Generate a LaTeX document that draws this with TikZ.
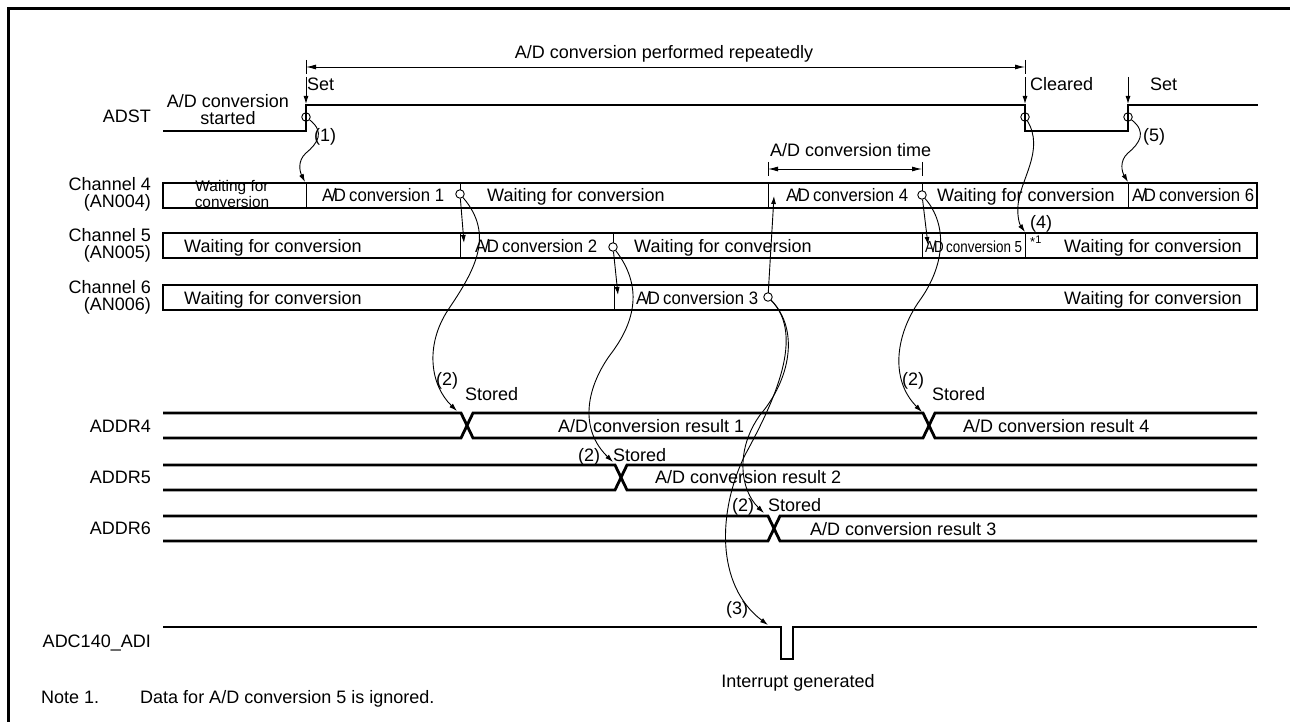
\documentclass[tikz,border=0pt]{standalone}
\usepackage{fontspec}
\setmainfont{Liberation Sans}
\usepackage{graphicx}
\usetikzlibrary{arrows.meta}
\newcommand{\ADc}[1]{\scalebox{0.93}[1]{A\kern-2pt/\kern-2.5pt D\kern-1.5pt{} conversion #1}}
\begin{document}
\begin{tikzpicture}[x=1pt,y=-1pt,
  sig/.style={line width=2.8pt},
  thinl/.style={line width=0.9pt},
  arr/.style={thinl,-{Latex[length=8pt,width=5pt]}},
  dim/.style={thinl,{Latex[length=10pt,width=5pt]}-{Latex[length=10pt,width=5pt]}},
  txt/.style={inner sep=0pt,font=\fontsize{18}{17}\selectfont},
  small/.style={inner sep=0pt,font=\fontsize{15.4}{12}\selectfont},
  ring/.style={circle,draw,thinl,inner sep=0pt,minimum size=8.5pt}
]
\useasboundingbox (0,0) rectangle (1290,722);
% frame
\draw[line width=3pt] (8,740) -- (8,9) -- (1300,9);

% ---------------- row labels
\node[txt,anchor=east] (lADST) at (151,116) {ADST};
\node[txt,anchor=east,align=right] (lch4) at (151,194) {Channel 4\\(AN004)};
\node[txt,anchor=east,align=right] (lch5) at (151,245) {Channel 5\\(AN005)};
\node[txt,anchor=east,align=right] (lch6) at (151,297) {Channel 6\\(AN006)};
\node[txt,anchor=east] (lr4) at (151,426) {ADDR4};
\node[txt,anchor=east] (lr5) at (151,477) {ADDR5};
\node[txt,anchor=east] (lr6) at (151,528) {ADDR6};
\node[txt,anchor=east] (ladi) at (151,643) {ADC140\_ADI};

% ---------------- ADST
\draw[sig] (163,131) -- (306,131) -- (306,105) -- (1025,105) -- (1025,131) -- (1128,131) -- (1128,105) -- (1258,105);
\node[ring] (c1) at (306,117) {};
\node[ring] (c2) at (1025,117) {};
\node[ring] (c3) at (1128,117) {};
\node[txt,align=center] (started) at (228,110) {A/D conversion\\started};

% set / cleared arrows
\coordinate (s1a) at (306,77);  \coordinate (s1b) at (306,104);
\coordinate (s2a) at (1025,77); \coordinate (s2b) at (1025,104);
\coordinate (s3a) at (1128,77); \coordinate (s3b) at (1128,104);
\draw[arr] (s1a) -- (s1b);
\draw[arr] (s2a) -- (s2b);
\draw[arr] (s3a) -- (s3b);
\node[txt,anchor=base west] (tset1) at (307,91) {Set};
\node[txt,anchor=base west] (tclr) at (1030,91) {Cleared};
\node[txt,anchor=base west] (tset2) at (1150,91) {Set};

% dimension: performed repeatedly
\coordinate (d1l) at (306,67); \coordinate (d1r) at (1025,67);
\draw[thinl] (306,60) -- (306,74);
\draw[thinl] (1025,60) -- (1025,74);
\draw[dim] (d1l) -- (d1r);
\node[txt,anchor=base] (trep) at (664,59) {A/D conversion performed repeatedly};

% dimension: conversion time
\coordinate (d2l) at (768,169); \coordinate (d2r) at (922,169);
\draw[thinl] (768,162) -- (768,176);
\draw[thinl] (922,162) -- (922,176);
\draw[dim] (d2l) -- (d2r);
\node[txt,anchor=base west] (tctime) at (770,157) {A/D conversion time};

% ---------------- channel boxes
\draw[sig] (163,183) rectangle (1257,208);
\draw[sig] (163,233) rectangle (1257,258);
\draw[sig] (163,285) rectangle (1257,310);
% dividers ch4
\draw[thinl] (306,183) -- (306,208);
\draw[thinl] (460,183) -- (460,190);
\draw[thinl] (768,183) -- (768,208);
\draw[thinl] (922,183) -- (922,191);
\draw[thinl] (1128,183) -- (1128,208);
% dividers ch5
\draw[thinl] (460,233) -- (460,258);
\draw[thinl] (613,233) -- (613,243);
\draw[thinl] (922,233) -- (922,258);
\draw[thinl] (1025,233) -- (1025,258);
% dividers ch6
\draw[thinl] (614,285) -- (614,310);
\draw[thinl] (768,285) -- (768,293);

\node[ring] (k4a) at (460,194) {};
\node[ring] (k4b) at (922,195) {};
\node[ring] (k5) at (613,247) {};
\node[ring] (k6) at (768,297) {};

% ch4 texts
\node[small,align=center] (w4a) at (232,194) {Waiting for\\conversion};
\node[txt,anchor=base west] (a41) at (322,202) {\ADc{1}};
\node[txt,anchor=base west] (w4b) at (487,202) {Waiting for conversion};
\node[txt,anchor=base west] (a44) at (786,202) {\ADc{4}};
\node[txt,anchor=base west] (w4c) at (937,202) {Waiting for conversion};
\node[txt,anchor=base west] (a46) at (1132,202) {\ADc{6}};
% ch5 texts
\node[txt,anchor=base west] (w5a) at (184,252) {Waiting for conversion};
\node[txt,anchor=base west] (a52) at (475,252) {\ADc{2}};
\node[txt,anchor=base west] (w5b) at (634,252) {Waiting for conversion};
\node[inner sep=0pt,anchor=base west,font=\fontsize{16}{16}\selectfont] (a55) at (925,252) {\scalebox{0.9}[1]{\ADc{5}}};
\node[inner sep=0pt,anchor=base west] (ast) at (1030,247) {\fontsize{13}{13}\selectfont *\raisebox{3pt}{\fontsize{11}{11}\selectfont 1}};
\node[txt,anchor=base west] (w5c) at (1064,252) {Waiting for conversion};
% ch6 texts
\node[txt,anchor=base west] (w6a) at (184,304) {Waiting for conversion};
\node[txt,anchor=base west] (a63) at (636,304) {\ADc{3}};
\node[txt,anchor=base west] (w6b) at (1064,304) {Waiting for conversion};

% ---------------- ADDR buses
\draw[sig] (163,413) -- (461,413) -- (473,438) -- (923,438) -- (935,413) -- (1257,413);
\draw[sig] (163,438) -- (461,438) -- (473,413) -- (923,413) -- (935,438) -- (1257,438);
\draw[sig] (163,465) -- (615,465) -- (627,490) -- (1257,490);
\draw[sig] (163,490) -- (615,490) -- (627,465) -- (1257,465);
\draw[sig] (163,516) -- (768,516) -- (780,541) -- (1257,541);
\draw[sig] (163,541) -- (768,541) -- (780,516) -- (1257,516);

\node[txt,anchor=base west] (r1) at (558,432) {A/D conversion result 1};
\node[txt,anchor=base west] (r4) at (963,432) {A/D conversion result 4};
\node[txt,anchor=base west] (r2) at (655,483) {A/D conversion result 2};
\node[txt,anchor=base west] (r3) at (810,535) {A/D conversion result 3};

\node[txt,anchor=base west] (n2a) at (436,385) {(2)};
\node[txt,anchor=base west] (st1) at (465,400) {Stored};
\node[txt,anchor=base west] (n2b) at (902,385) {(2)};
\node[txt,anchor=base west] (st4) at (932,400) {Stored};
\node[txt,anchor=base west] (n2c) at (578,461) {(2)};
\node[txt,anchor=base west] (st2) at (613,461) {Stored};
\node[txt,anchor=base west] (n2d) at (732,511) {(2)};
\node[txt,anchor=base west] (st3) at (768,511) {Stored};

% ---------------- ADI
\draw[sig] (163,627) -- (781,627) -- (781,659) -- (793,659) -- (793,627) -- (1257,627);
\node[txt] (intg) at (798,683) {Interrupt generated};
\node[txt,anchor=base west] (n3) at (726,614) {(3)};

% ---------------- step labels
\node[txt,anchor=base west] (n1) at (314,142) {(1)};
\node[txt,anchor=base west] (n5) at (1143,142) {(5)};
\node[txt,anchor=base west] (n4) at (1030,229) {(4)};

% ---------------- note
\node[txt,anchor=base west] (note) at (41,703) {Note 1.\hspace{41pt}Data for A/D conversion 5 is ignored.};

% ---------------- connectors
\coordinate (t1) at (305,182);
\coordinate (t5) at (1128,182);
\coordinate (t45a) at (464,243);
\coordinate (t45b) at (928,245);
\coordinate (t56) at (618,295);
\coordinate (t64) at (774,196);
\coordinate (tr4a) at (457,411);
\coordinate (tr4b) at (922,412);
\coordinate (tr5) at (613,462);
\coordinate (tr6) at (764,513);
\coordinate (tadi) at (768,625);
\coordinate (t4) at (1025,232);

\draw[arr] (c1) .. controls (325,132) and (318,143) .. (306,153) .. controls (297,161) and (300,172) .. (t1);
\draw[arr] (c3) .. controls (1147,132) and (1140,143) .. (1128,153) .. controls (1119,161) and (1122,172) .. (t5);
\draw[arr] (k4a) -- (t45a);
\draw[arr] (k4b) -- (t45b);
\draw[arr] (k5) -- (t56);
\draw[arr] (k6) -- (t64);
\draw[arr] (k4a) .. controls (495,235) and (475,270) .. (448,310) .. controls (425,345) and (430,385) .. (tr4a);
\draw[arr] (k5) .. controls (642,285) and (637,320) .. (610,355) .. controls (585,390) and (580,430) .. (tr5);
\draw[arr] (k4b) .. controls (948,225) and (945,265) .. (920,300) .. controls (895,335) and (890,380) .. (tr4b);
\draw[arr] (k6) .. controls (800,330) and (790,380) .. (760,415) .. controls (735,450) and (740,490) .. (tr6);
\draw[arr] (k6) .. controls (805,335) and (775,400) .. (745,455) .. controls (718,510) and (715,585) .. (tadi);
\draw[arr] (c2) .. controls (1045,150) and (1020,180) .. (1018,205) .. controls (1017,218) and (1020,225) .. (t4);

\end{tikzpicture}
\end{document}
